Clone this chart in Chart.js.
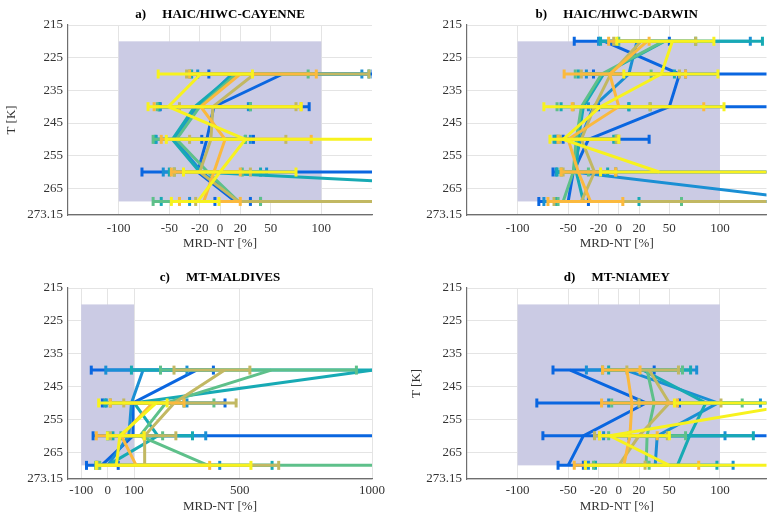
<!DOCTYPE html>
<html>
<head>
<meta charset="utf-8">
<script src="https://cdn.jsdelivr.net/npm/chart.js@4.4.1/dist/chart.umd.min.js"></script>
<style>
  html, body { margin: 0; padding: 0; background: #fff; overflow: hidden; }
  .panel { position: absolute; }
</style>
</head>
<body>
<div class="panel" style="left:0;top:0;width:384px;height:260px"><canvas id="chartA"></canvas></div>
<div class="panel" style="left:384px;top:0;width:390px;height:260px"><canvas id="chartB"></canvas></div>
<div class="panel" style="left:0;top:260px;width:389px;height:255px"><canvas id="chartC"></canvas></div>
<div class="panel" style="left:384px;top:260px;width:390px;height:255px"><canvas id="chartD"></canvas></div>
<script>
// series order: blue, light blue, teal, green, olive, orange, yellow
var seriesColors = ['#0a66e0', '#1a8fd4', '#17aab4', '#5ec08a', '#c2b862', '#fbb93d', '#f7f21e'];

var yTicks = [215, 225, 235, 245, 255, 265, 273.15];
var xTicksPct = [-100, -50, -20, 0, 20, 50, 100];
var xTicksWide = [-100, 0, 100, 500, 1000];

// shaded box
var shadeX = [-100, 100];
var shadeT = [220, 269];

// a) HAIC/HIWC-CAYENNE
var aLevels = [230, 240, 250, 260, 269];
var aMean = [
    [62, -6, -13, -22, 15],
    [12, -22, -45, -18, 18],
    [14, -25, -47, -20, 550],
    [16, -20, -43, -12, 18],
    [34, -7, -9, -20, 18],
    [20, -19, 5, -6, -16],
    [-19, -51, 25, 0, -22]
];
var aLow = [
    [-11, -59, -18, -77, -5],
    [-22, -60, -63, -56, -30],
    [-28, -60, -64, -50, -58],
    [-30, -62, -66, -45, -66],
    [-33, -40, -30, -45, -24],
    [-30, -65, -58, -48, -40],
    [-61, -71, -53, -36, -48]
];
var aHigh = [
    [151, 88, 33, 300, 30],
    [140, 28, 30, 46, 40],
    [147, 30, 25, 40, 700],
    [87, 30, 25, 22, 40],
    [147, 75, 65, 30, 300],
    [95, 80, 90, 20, 20],
    [32, 80, 300, 75, -1]
];

// b) HAIC/HIWC-DARWIN
var bLevels = [220, 230, 240, 250, 260, 269];
var bMean = [
    [-14, 60, 50, -30, -45, -50],
    [18, 10, -25, -38, -45, 200],
    [45, -15, -35, -40, -42, -35],
    [44, -17, -37, -42, -45, -55],
    [22, -8, -24, -37, -24, -37],
    [28, -9, 0, -50, -40, -28],
    [53, 42, -18, -55, 40, null]
];
var bLow = [
    [-44, -25, -20, -55, -65, -79],
    [-20, -32, -30, -62, -62, -74],
    [-18, -40, -57, -64, -61, -62],
    [0, -43, -61, -60, -57, -60],
    [-5, -37, -45, -58, -55, -64],
    [-10, -54, -46, -60, -57, -70],
    [-2, 5, -74, -68, -18, null]
];
var bHigh = [
    [50, 300, 300, 30, 300, -30],
    [130, 66, 10, -2, -3, 400],
    [142, 55, 10, -5, -11, 20],
    [76, 32, 31, -3, -30, 62],
    [76, 60, 31, -2, -3, 400],
    [30, 66, 84, 0, -3, 4],
    [94, 98, 104, 0, 300, null]
];

// c) MT-MALDIVES
var cLevels = [240, 250, 260, 269];
var cMean = [
    [336, 96, 96, -23],
    [134, 90, 80, 0],
    [1000, 100, 190, 0],
    [619, 220, 122, 380],
    [443, 252, 140, 140],
    [null, 170, 52, 108],
    [null, 184, 46, 33]
];
var cLow = [
    [-62, -20, -55, -80],
    [-7, -5, 0, -40],
    [90, -10, 20, -45],
    [200, 10, 50, -30],
    [251, 61, 10, -40],
    [null, 10, -43, -43],
    [null, -34, -1, -43]
];
var cHigh = [
    [400, 444, 1100, 40],
    [300, 300, 371, 424],
    [1100, 289, 321, 622],
    [941, 402, 208, 1100],
    [538, 486, 258, 647],
    [null, 289, 138, 386],
    [null, 225, 138, 542]
];

// d) MT-NIAMEY
var dLevels = [240, 250, 260, 269];
var dMean = [
    [-48, 27, -35, -50],
    [7, 98, 38, 36],
    [24, 86, 70, 58],
    [28, 35, 28, 27],
    [30, 50, 20, 0],
    [8, 13, 11, 5],
    [null, 183, -9, 50]
];
var dLow = [
    [-65, -81, -75, -60],
    [-32, -10, -15, -30],
    [-10, 20, 10, -23],
    [-16, -7, -10, -25],
    [8, 20, -24, -33],
    [-16, -17, -19, -44],
    [null, 55, -19, -33]
];
var dHigh = [
    [35, 60, 300, -35],
    [77, 140, 105, 113],
    [71, 150, 133, 97],
    [63, 122, 66, 30],
    [59, 101, 48, 26],
    [21, 58, 38, 79],
    [null, 400, 50, 400]
];

// shaded rectangle behind the data
var shadePlugin = {
    id: 'shade',
    beforeDatasetsDraw: function(chart)
    {
        var x = chart.scales.x, y = chart.scales.y, ctx = chart.ctx, a = chart.chartArea;
        var x0 = x.getPixelForValue(shadeX[0]), x1 = x.getPixelForValue(shadeX[1]);
        var y0 = y.getPixelForValue(shadeT[0]), y1 = y.getPixelForValue(shadeT[1]);
        ctx.save();
        ctx.beginPath();
        ctx.rect(a.left, a.top, a.right - a.left, a.bottom - a.top);
        ctx.clip();
        ctx.fillStyle = '#cbcbe4';
        ctx.fillRect(x0, y0, x1 - x0, y1 - y0);
        ctx.restore();
    }
};

function buildDatasets(levels, mean, low, high)
{
    var ds = [];
    seriesColors.forEach(function(col, s)
    {
        var pts = [];
        levels.forEach(function(t, i)
        {
            if (mean[s][i] !== null) pts.push({x: mean[s][i], y: t});
        });
        ds.push({
            data: pts, showLine: true, borderColor: col, borderWidth: 3,
            pointRadius: 0, tension: 0, order: 6 - s
        });
        levels.forEach(function(t, i)
        {
            if (low[s][i] === null) return;
            ds.push({
                data: [{x: low[s][i], y: t}, {x: high[s][i], y: t}],
                showLine: true, borderColor: col, borderWidth: 3,
                pointStyle: 'line', rotation: 90, pointRadius: 4.5,
                pointBorderWidth: 3, pointBorderColor: col, pointBackgroundColor: col,
                order: 6 - s
            });
        });
    });
    return ds;
}

var tickFont = {family: 'Liberation Serif', size: 13};

function makeChart(id, p)
{
    var ctx = document.getElementById(id).getContext('2d');
    return new Chart(ctx,
    {
        type: 'scatter',
        data: { datasets: buildDatasets(p.levels, p.mean, p.low, p.high) },
        plugins: [shadePlugin],
        options:
        {
            responsive: true,
            maintainAspectRatio: false,
            animation: false,
            events: [],
            layout: { padding: { right: p.padRight, left: 0, top: 0, bottom: 0 } },
            plugins:
            {
                legend: { display: false },
                tooltip: { enabled: false },
                title:
                {
                    display: true,
                    text: p.title,
                    fullSize: false,
                    color: '#000',
                    font: {family: 'Liberation Serif', size: 13, weight: 'bold'},
                    padding: { top: p.titleTop, bottom: 2.4 }
                }
            },
            scales:
            {
                x:
                {
                    type: 'linear',
                    min: -150,
                    max: p.xMax,
                    afterBuildTicks: function(sc) { sc.ticks = p.xTicks.map(function(v) { return {value: v}; }); },
                    afterFit: function(sc) { sc.height = p.xHeight; },
                    grid: { color: '#e4e4e4', drawTicks: false },
                    border: { color: '#6e6e6e', width: 1.2 },
                    ticks: { font: tickFont, color: '#333', padding: p.xPad, maxRotation: 0,
                             callback: function(v) { return String(v); } },
                    title: { display: true, text: 'MRD-NT [%]', color: '#333', font: tickFont,
                             padding: { top: 0, bottom: p.xTitleBottom } }
                },
                y:
                {
                    type: 'linear',
                    reverse: true,
                    min: 215,
                    max: 273.15,
                    afterBuildTicks: function(sc) { sc.ticks = yTicks.map(function(v) { return {value: v}; }); },
                    afterFit: function(sc) { sc.width = p.yWidth; },
                    grid: { color: '#e4e4e4', drawTicks: false },
                    border: { color: '#6e6e6e', width: 1.2 },
                    ticks: { font: tickFont, color: '#333', padding: 5,
                             callback: function(v) { return String(v); } },
                    title: { display: p.yTitle, text: 'T [K]', color: '#333', font: tickFont,
                             padding: { top: p.yTitleTop, bottom: 0 } }
                }
            }
        }
    });
}

makeChart('chartA', {
    levels: aLevels, mean: aMean, low: aLow, high: aHigh,
    title: 'a)     HAIC/HIWC-CAYENNE', titleTop: 7, xMax: 150, xTicks: xTicksPct,
    padRight: 12, yWidth: 68, xHeight: 45, xPad: 6, xTitleBottom: 8.2, yTitle: true, yTitleTop: 4.2
});
makeChart('chartB', {
    levels: bLevels, mean: bMean, low: bLow, high: bHigh,
    title: 'b)     HAIC/HIWC-DARWIN', titleTop: 7, xMax: 146, xTicks: xTicksPct,
    padRight: 0, yWidth: 83, xHeight: 45, xPad: 6, xTitleBottom: 8.2, yTitle: false, yTitleTop: 0
});
makeChart('chartC', {
    levels: cLevels, mean: cMean, low: cLow, high: cHigh,
    title: 'c)     MT-MALDIVES', titleTop: 10, xMax: 1000, xTicks: xTicksWide,
    padRight: 12, yWidth: 68, xHeight: 36, xPad: 4, xTitleBottom: 0.2, yTitle: false, yTitleTop: 0
});
makeChart('chartD', {
    levels: dLevels, mean: dMean, low: dLow, high: dHigh,
    title: 'd)     MT-NIAMEY', titleTop: 10, xMax: 146, xTicks: xTicksPct,
    padRight: 0, yWidth: 83, xHeight: 36, xPad: 4, xTitleBottom: 0.2, yTitle: true, yTitleTop: 25.2
});
</script>
</body>
</html>
